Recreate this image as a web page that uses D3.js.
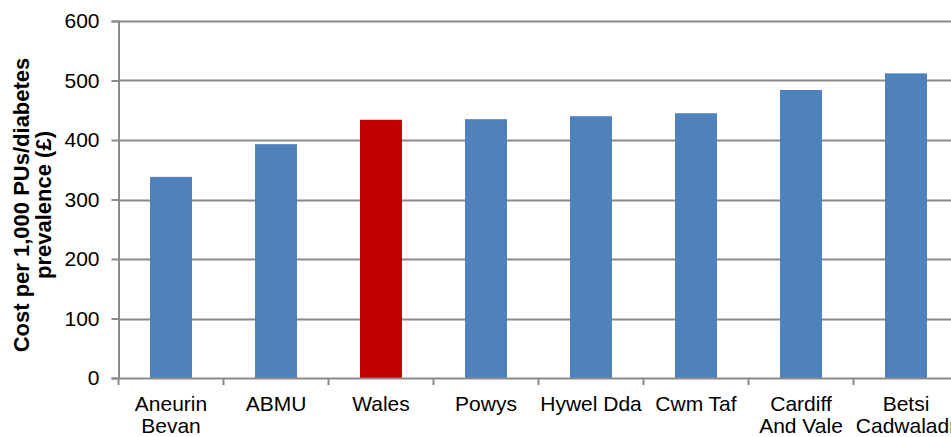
<!DOCTYPE html>
<html>
<head>
<meta charset="utf-8">
<script src="https://cdn.jsdelivr.net/npm/d3@7"></script>
<style>
  html, body { margin: 0; padding: 0; background: #fff; overflow: hidden; }
  text { font-family: "Liberation Sans", Arial, sans-serif; fill: #000; }
</style>
</head>
<body>
<div id="chart"></div>
<script>
const WIDTH = 951;
const HEIGHT = 437;

const CATEGORIES = [["Aneurin", "Bevan"], ["ABMU"], ["Wales"], ["Powys"], ["Hywel Dda"], ["Cwm Taf"], ["Cardiff", "And Vale"], ["Betsi", "Cadwaladr"]];
const VALUES = [338, 393, 434, 435, 440, 445, 484, 512];
const HIGHLIGHT = "Wales";
const Y_TICKS = [0, 100, 200, 300, 400, 500, 600];
const Y_TITLE = ["Cost per 1,000 PUs/diabetes", "prevalence (£)"];

const margin = { left: 118.5, top: 21, bottom: 378 };
const plotRight = 958.5;

var svg = d3.select("#chart").append("svg")
    .attr("width", WIDTH)
    .attr("height", HEIGHT);

var xScale = d3.scaleBand()
    .domain(CATEGORIES.map(c => c.join(" ")))
    .range([margin.left, plotRight])
    .paddingInner(0.6)
    .paddingOuter(0.3);

var yScale = d3.scaleLinear()
    .domain([0, 600])
    .range([margin.bottom, margin.top]);

// gridlines
svg.append("g")
    .selectAll("line")
    .data(Y_TICKS.filter(d => d > 0))
    .enter()
    .append("line")
        .attr("x1", margin.left)
        .attr("x2", plotRight)
        .attr("y1", d => Math.round(yScale(d)) + 0.5)
        .attr("y2", d => Math.round(yScale(d)) + 0.5)
        .attr("stroke", "#8a8a8a")
        .attr("stroke-width", 2);

// bars
svg.append("g")
    .selectAll("rect")
    .data(VALUES)
    .enter()
    .append("rect")
        .attr("x", (d, i) => xScale(CATEGORIES[i].join(" ")))
        .attr("width", xScale.bandwidth())
        .attr("y", d => yScale(d))
        .attr("height", d => yScale(0) - yScale(d))
        .attr("fill", (d, i) => CATEGORIES[i].join(" ") === HIGHLIGHT ? "#c00000" : "#4f81bd");

// y axis
var yAxis = svg.append("g")
    .attr("transform", `translate(${margin.left},0)`)
    .call(d3.axisLeft(yScale).tickValues(Y_TICKS).tickSize(7).tickPadding(12));
yAxis.select(".domain").attr("stroke", "#8a8a8a").attr("stroke-width", 2);
yAxis.selectAll(".tick line").attr("stroke", "#8a8a8a").attr("stroke-width", 2);
yAxis.selectAll(".tick text")
    .attr("font-size", "21px")
    .attr("font-family", "Liberation Sans, Arial, sans-serif")
    .attr("fill", "#000");

// x axis
var xAxis = svg.append("g")
    .attr("transform", `translate(0,${margin.bottom})`)
    .call(d3.axisBottom(xScale).tickSize(0).tickFormat(""));
xAxis.select(".domain").attr("stroke", "#8a8a8a").attr("stroke-width", 2);

// x tick marks between categories
const step = xScale.step();
svg.append("g")
    .selectAll("line")
    .data(d3.range(CATEGORIES.length + 1))
    .enter()
    .append("line")
        .attr("x1", i => margin.left + i * step)
        .attr("x2", i => margin.left + i * step)
        .attr("y1", margin.bottom)
        .attr("y2", margin.bottom + 7)
        .attr("stroke", "#8a8a8a")
        .attr("stroke-width", 2);

// x labels
var xLabels = svg.append("g")
    .selectAll("text")
    .data(CATEGORIES)
    .enter()
    .append("text")
        .attr("text-anchor", "middle")
        .attr("font-size", "21px")
        .attr("x", d => xScale(d.join(" ")) + xScale.bandwidth() / 2)
        .attr("y", 411);

xLabels.selectAll("tspan")
    .data(d => d)
    .enter()
    .append("tspan")
        .attr("x", function() { return d3.select(this.parentNode).attr("x"); })
        .attr("dy", (d, i) => i === 0 ? 0 : 22)
        .text(d => d);

// y title
svg.append("g")
    .attr("transform", "translate(29,205) rotate(-90)")
    .selectAll("text")
    .data(Y_TITLE)
    .enter()
    .append("text")
        .attr("text-anchor", "middle")
        .attr("font-size", "22px")
        .attr("font-weight", "bold")
        .attr("y", (d, i) => i * 22)
        .text(d => d);
</script>
</body>
</html>
